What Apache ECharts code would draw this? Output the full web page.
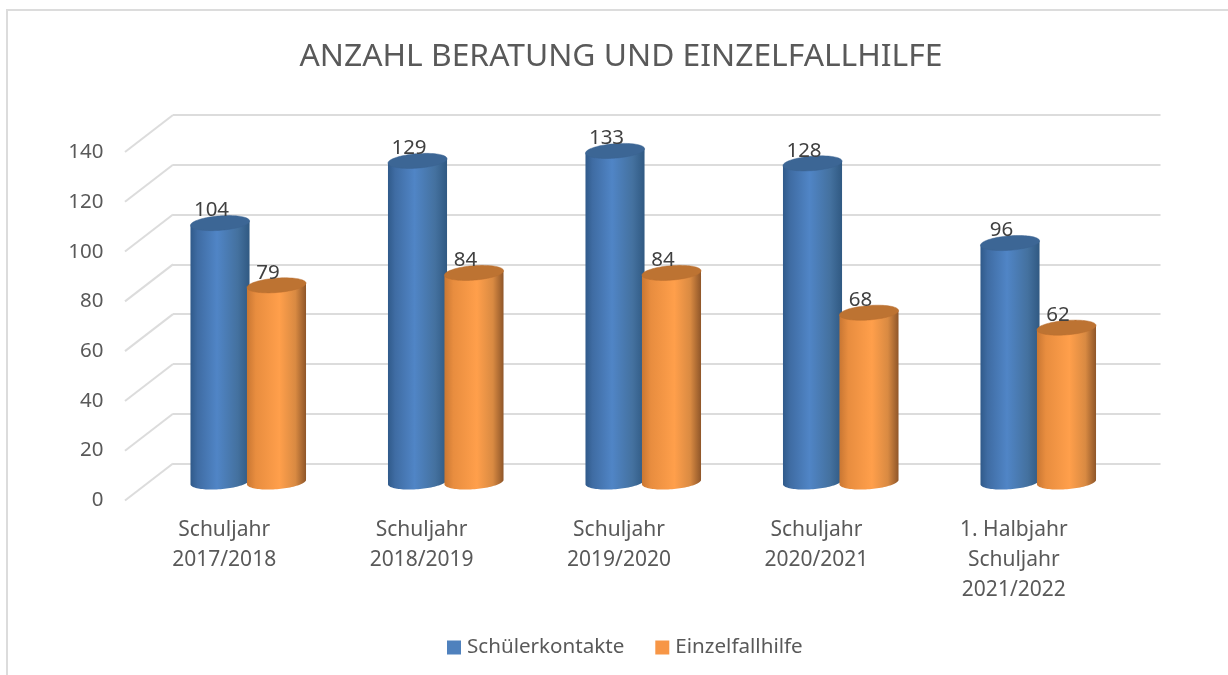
<!DOCTYPE html>
<html><head><meta charset="utf-8">
<style>html,body{margin:0;padding:0;background:#fff}#c{width:1228px;height:675px}</style>
<script src="https://cdn.jsdelivr.net/npm/echarts@6/dist/echarts.min.js"></script>
</head><body><div id="c"></div>
<script>
const categories = ['Schuljahr\n2017/2018','Schuljahr\n2018/2019','Schuljahr\n2019/2020','Schuljahr\n2020/2021','1. Halbjahr\nSchuljahr\n2021/2022'];
const schuelerkontakte = [104,129,133,128,96];
const einzelfallhilfe = [79,84,84,68,62];
const yTicks = [0,20,40,60,80,100,120,140];
const FONT = '"Noto Sans", sans-serif';
const TILT = -4.5*Math.PI/180, RY = 7.2;
function ell(cx,cy,a,t){
  return [cx+a*Math.cos(t)*Math.cos(TILT)-RY*Math.sin(t)*Math.sin(TILT),
          cy+a*Math.cos(t)*Math.sin(TILT)+RY*Math.sin(t)*Math.cos(TILT)];
}
function cylinder(shift,stops,topFill,topEdge){
  return function(params,api){
    const band = api.size([1,0])[0];
    const w = band*0.3, a = w/2;
    const top = api.coord([api.value(0),api.value(1)]);
    const base = api.coord([api.value(0),0]);
    const cx = top[0]+band*shift;
    const body=[], cap=[];
    const n=48;
    body.push(ell(cx,top[1],a,0));
    for(let i=0;i<=n;i++) body.push(ell(cx,base[1],a,Math.PI*i/n));
    body.push(ell(cx,top[1],a,Math.PI));
    for(let i=0;i<n*2;i++) cap.push(ell(cx,top[1],a,Math.PI*i/n));
    return {type:'group',children:[
      {type:'polygon',shape:{points:body},style:{fill:new echarts.graphic.LinearGradient(0,0,1,0,stops)}},
      {type:'polygon',shape:{points:cap},style:{fill:topFill,stroke:topEdge,lineWidth:0.5}},
      {type:'text',style:{text:String(api.value(1)),x:cx-8.5,y:top[1]-12.5,align:'center',verticalAlign:'middle',fill:'#404040',font:'20.5px '+FONT}}
    ]};
  };
}
function diagonal(params,api){
  const band = api.size([1,0])[0];
  const p = api.coord([0,api.value(0)]);
  const x = p[0]-band/2;
  return {type:'line',shape:{x1:x,y1:p[1],x2:x-48,y2:p[1]+37},style:{stroke:'#dcdcdc',lineWidth:2}};
}
const blueStops=[{offset:0,color:'#305a8a'},{offset:0.12,color:'#3f6ca3'},{offset:0.45,color:'#5085c6'},{offset:0.8,color:'#44719f'},{offset:1,color:'#305982'}];
const orangeStops=[{offset:0,color:'#c97733'},{offset:0.15,color:'#e88d3f'},{offset:0.55,color:'#ff9f4b'},{offset:0.82,color:'#d98a42'},{offset:1,color:'#8f5629'}];
const chart = echarts.init(document.getElementById('c'),null,{renderer:'canvas'});
chart.setOption({
  animation:false,
  backgroundColor:'#fff',
  title:{text:'ANZAHL BERATUNG UND EINZELFALLHILFE',left:616,top:36,textAlign:'center',
    textStyle:{fontFamily:FONT,fontSize:31.8,fontWeight:'normal',color:'#595959'}},
  graphic:[
    {type:'rect',shape:{x:6,y:10,width:2,height:665},style:{fill:'#dcdcdc'},silent:true},
    {type:'rect',shape:{x:6,y:9,width:1222,height:2},style:{fill:'#dcdcdc'},silent:true}
  ],
  legend:{left:442,top:632,itemWidth:14,itemHeight:14,itemGap:31,icon:'rect',
    data:['Schülerkontakte','Einzelfallhilfe'],
    textStyle:{fontFamily:FONT,fontSize:20.6,color:'#595959',padding:[0,0,0,1]}},
  grid:[
    {left:125.5,top:152.5,width:987,height:347.5},
    {left:173,top:115,width:987.5,height:348.5},
    {left:149.5,top:133.5,width:987.5,height:348.5}
  ],
  xAxis:[
    {type:'category',gridIndex:0,data:categories,axisLine:{show:false},axisTick:{show:false},splitLine:{show:false},
      axisLabel:{margin:15,interval:0,fontFamily:FONT,fontSize:21,color:'#595959',lineHeight:30}},
    {type:'category',gridIndex:1,data:categories,show:false},
    {type:'category',gridIndex:2,data:categories,show:false}
  ],
  yAxis:[
    {type:'value',gridIndex:0,min:0,max:140,interval:20,axisLine:{show:false},axisTick:{show:false},splitLine:{show:false},
      axisLabel:{margin:22,fontFamily:FONT,fontSize:20.5,color:'#595959'}},
    {type:'value',gridIndex:1,min:0,max:140,interval:20,axisLine:{show:false},axisTick:{show:false},axisLabel:{show:false},
      splitLine:{show:true,lineStyle:{color:'#dcdcdc',width:2}}},
    {type:'value',gridIndex:2,min:0,max:140,interval:20,show:false,splitLine:{show:false}}
  ],
  series:[
    {type:'custom',silent:true,xAxisIndex:1,yAxisIndex:1,coordinateSystem:'cartesian2d',clip:false,
      data:yTicks.map(v=>[v]),encode:{y:0},renderItem:diagonal,z:1},
    {name:'Schülerkontakte',type:'custom',xAxisIndex:2,yAxisIndex:2,clip:false,
      itemStyle:{color:'#4f81bd'},
      data:schuelerkontakte.map((v,i)=>[i,v]),encode:{x:0,y:1},
      renderItem:cylinder(-0.143,blueStops,'#3c6695','#3a6391'),z:3},
    {name:'Einzelfallhilfe',type:'custom',xAxisIndex:2,yAxisIndex:2,clip:false,
      itemStyle:{color:'#f79646'},
      data:einzelfallhilfe.map((v,i)=>[i,v]),encode:{x:0,y:1},
      renderItem:cylinder(0.143,orangeStops,'#bd7332','#b86f30'),z:4}
  ]
});
</script></body></html>
